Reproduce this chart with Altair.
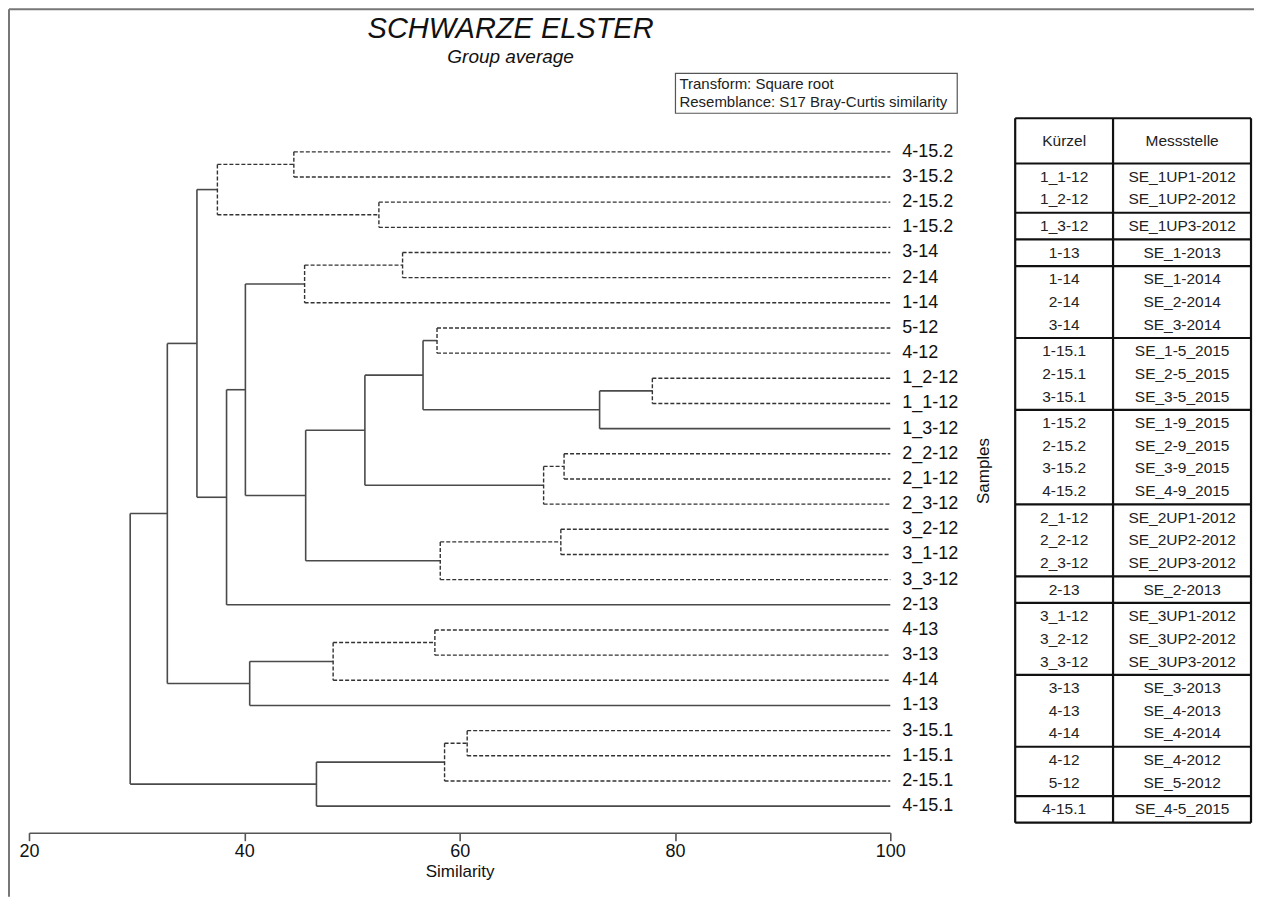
import altair as alt
import pandas as pd

# ---------------- data ----------------
leaves = ["4-15.2", "3-15.2", "2-15.2", "1-15.2", "3-14", "2-14", "1-14", "5-12", "4-12",
          "1_2-12", "1_1-12", "1_3-12", "2_2-12", "2_1-12", "2_3-12", "3_2-12", "3_1-12",
          "3_3-12", "2-13", "4-13", "3-13", "4-14", "1-13", "3-15.1", "1-15.1", "2-15.1", "4-15.1"]

node_ids = ["n1", "n2", "n3", "n4", "n5", "n6", "n7", "n8", "n9", "n10", "n11", "n12", "n13",
            "n14", "n15", "n16", "n17", "n18", "n19", "n20", "n21", "n22", "n23", "n24", "n25", "n26"]
merge_a = ["4-15.2", "2-15.2", "n1", "3-14", "n4", "5-12", "1_2-12", "n7", "n6", "2_2-12", "n10",
           "n9", "3_2-12", "n13", "n12", "n5", "n16", "n3", "4-13", "n19", "n20", "n18",
           "3-15.1", "n23", "n24", "n22"]
merge_b = ["3-15.2", "1-15.2", "n2", "2-14", "1-14", "4-12", "1_1-12", "1_3-12", "n8", "2_1-12",
           "2_3-12", "n11", "3_1-12", "3_3-12", "n14", "n15", "2-13", "n17", "3-13", "4-14",
           "1-13", "n21", "1-15.1", "2-15.1", "4-15.1", "n25"]
merge_sim = [44.6, 52.5, 37.5, 54.7, 45.6, 57.9, 77.9, 73.0, 56.6, 69.7, 67.8, 51.2, 69.4,
             58.2, 45.7, 40.1, 38.35, 35.6, 57.7, 48.25, 40.5, 32.85, 60.7, 58.6, 46.7, 29.4]
merge_significant = [False, False, False, False, False, False, False, True, True, False, False,
                     True, False, False, True, True, True, True, False, False, True, True,
                     False, False, True, True]

axis_ticks = [20, 40, 60, 80, 100]

table_header = ["Kürzel", "Messstelle"]
table_groups_kurz = [["1_1-12", "1_2-12"], ["1_3-12"], ["1-13"], ["1-14", "2-14", "3-14"],
                     ["1-15.1", "2-15.1", "3-15.1"], ["1-15.2", "2-15.2", "3-15.2", "4-15.2"],
                     ["2_1-12", "2_2-12", "2_3-12"], ["2-13"], ["3_1-12", "3_2-12", "3_3-12"],
                     ["3-13", "4-13", "4-14"], ["4-12", "5-12"], ["4-15.1"]]
table_groups_mess = [["SE_1UP1-2012", "SE_1UP2-2012"], ["SE_1UP3-2012"], ["SE_1-2013"],
                     ["SE_1-2014", "SE_2-2014", "SE_3-2014"],
                     ["SE_1-5_2015", "SE_2-5_2015", "SE_3-5_2015"],
                     ["SE_1-9_2015", "SE_2-9_2015", "SE_3-9_2015", "SE_4-9_2015"],
                     ["SE_2UP1-2012", "SE_2UP2-2012", "SE_2UP3-2012"], ["SE_2-2013"],
                     ["SE_3UP1-2012", "SE_3UP2-2012", "SE_3UP3-2012"],
                     ["SE_3-2013", "SE_4-2013", "SE_4-2014"], ["SE_4-2012", "SE_5-2012"],
                     ["SE_4-5_2015"]]

title_text = "SCHWARZE ELSTER"
subtitle_text = "Group average"
info_line1 = "Transform: Square root"
info_line2 = "Resemblance: S17 Bray-Curtis similarity"
y_title = "Samples"
x_title = "Similarity"

# ---------------- dendrogram segments ----------------
pos = {name: float(i) for i, name in enumerate(leaves)}
level = {name: 100.0 for name in leaves}
segs = []
for nid, a, b, s, sig in zip(node_ids, merge_a, merge_b, merge_sim, merge_significant):
    st = "solid" if sig else "dashed"
    segs.append(dict(x=s, x2=s, y=pos[a], y2=pos[b], style=st))
    segs.append(dict(x=s, x2=level[a], y=pos[a], y2=pos[a], style=st))
    segs.append(dict(x=s, x2=level[b], y=pos[b], y2=pos[b], style=st))
    pos[nid] = (pos[a] + pos[b]) / 2
    level[nid] = s
seg_df = pd.DataFrame(segs)
leaf_df = pd.DataFrame({"leaf": leaves, "y": list(range(len(leaves))), "x": [100] * len(leaves)})

FONT = "Liberation Sans"
LINE = "#4a4a4a"
PLOT_W = 1223
PLOT_H = 680
XR = 862

xs = alt.Scale(domain=[20, 100], range=[0, XR])
ys = alt.Scale(domain=[-0.5, len(leaves) - 0.5], range=[0, PLOT_H])
AX = alt.Axis(values=axis_ticks, title=x_title, labelFontSize=18, titleFontSize=17,
              titleFontWeight="normal", tickSize=8, domainColor="#555", tickColor="#555",
              labelColor="#111", titleColor="#111", grid=False, offset=14, labelFont=FONT,
              titleFont=FONT, domainWidth=1.6, tickWidth=1.6, labelPadding=2, titlePadding=3,
              labelFlush=False)

def X(f):
    return alt.X(f, type="quantitative", scale=xs, axis=AX)

def Y(f):
    return alt.Y(f, type="quantitative", scale=ys, axis=None)

solid = alt.Chart(seg_df).transform_filter(alt.datum.style == "solid").mark_rule(
    color=LINE, strokeWidth=1.6).encode(x=X("x"), x2="x2", y=Y("y"), y2="y2")
dashed = alt.Chart(seg_df).transform_filter(alt.datum.style == "dashed").mark_rule(
    color="#333", strokeWidth=1.4, strokeDash=[4, 2]).encode(x=X("x"), x2="x2", y=Y("y"), y2="y2")
labels = alt.Chart(leaf_df).mark_text(align="left", baseline="middle", dx=12, fontSize=18,
                                       font=FONT, color="#111").encode(
    x=X("x"), y=Y("y"), text="leaf:N")

def free_text(t, x, y, **kw):
    return alt.Chart(pd.DataFrame({"t": [t]})).mark_text(font=FONT, baseline="middle", **kw).encode(
        text="t:N", x=alt.value(x), y=alt.value(y))

samples = free_text(y_title, 956, 332, angle=270, fontSize=17, color="#111", align="center")
title = free_text(title_text, 482, -110, fontSize=29, fontStyle="italic", color="#111", align="center")
subtitle = free_text(subtitle_text, 482, -82, fontSize=19, fontStyle="italic", color="#111", align="center")

box = alt.Chart(pd.DataFrame({"a": [0]})).mark_rect(
    fill="white", stroke="#555", strokeWidth=1.2).encode(
    x=alt.value(647), x2=alt.value(929), y=alt.value(-66), y2=alt.value(-26))
info1 = free_text(info_line1, 651, -55, fontSize=15, color="#222", align="left")
info2 = free_text(info_line2, 651, -37, fontSize=15, color="#222", align="left")

border_top = alt.Chart(pd.DataFrame({"a": [0]})).mark_rule(color="#777", strokeWidth=2).encode(
    x=alt.value(-20), x2=alt.value(1226), y=alt.value(-130))
border_left = alt.Chart(pd.DataFrame({"a": [0]})).mark_rule(color="#777", strokeWidth=2).encode(
    x=alt.value(-20), y=alt.value(-130), y2=alt.value(758))

dendro = alt.layer(border_top, border_left, solid, dashed, labels, samples, title, subtitle,
                   box, info1, info2)

# ---------------- table ----------------
HEADER_U = 2.0
PAD_U = 0.18
rows = []
hlines = [0.0, HEADER_U]
rows.append(dict(col=0.2076, y=HEADER_U / 2, t=table_header[0]))
rows.append(dict(col=0.708, y=HEADER_U / 2, t=table_header[1]))
cur = HEADER_U
for gk, gm in zip(table_groups_kurz, table_groups_mess):
    for j, (k, m) in enumerate(zip(gk, gm)):
        yy = cur + PAD_U / 2 + j + 0.5
        rows.append(dict(col=0.2076, y=yy, t=k))
        rows.append(dict(col=0.708, y=yy, t=m))
    cur += len(gk) + PAD_U
    hlines.append(cur)
total = cur
tab_df = pd.DataFrame(rows)
h_df = pd.DataFrame({"y": hlines, "x": [0.0] * len(hlines), "x2": [1.0] * len(hlines)})
v_df = pd.DataFrame({"x": [0.0, 0.415, 1.0], "y": [0.0] * 3, "y2": [total] * 3})

txs = alt.Scale(domain=[0, 1], range=[987, 1223])
tys = alt.Scale(domain=[0, total], range=[-21, 684])

tab_text = alt.Chart(tab_df).mark_text(fontSize=15.5, font=FONT, color="#222", baseline="middle",
                                        align="center").encode(
    x=alt.X("col:Q", scale=txs, axis=None), y=alt.Y("y:Q", scale=tys, axis=None), text="t:N")
tab_h = alt.Chart(h_df).mark_rule(color="#111", strokeWidth=2.2).encode(
    x=alt.X("x:Q", scale=txs, axis=None), x2="x2", y=alt.Y("y:Q", scale=tys, axis=None))
tab_v = alt.Chart(v_df).mark_rule(color="#111", strokeWidth=2.2).encode(
    x=alt.X("x:Q", scale=txs, axis=None), y=alt.Y("y:Q", scale=tys, axis=None), y2="y2")
table = alt.layer(tab_h, tab_v, tab_text)

chart = alt.layer(dendro, table).resolve_scale(x="independent", y="independent").properties(
    width=PLOT_W, height=PLOT_H, padding=0, background="white"
).configure_view(stroke=None)

chart.save("out.html", embed_options={"renderer": "svg", "actions": False})
